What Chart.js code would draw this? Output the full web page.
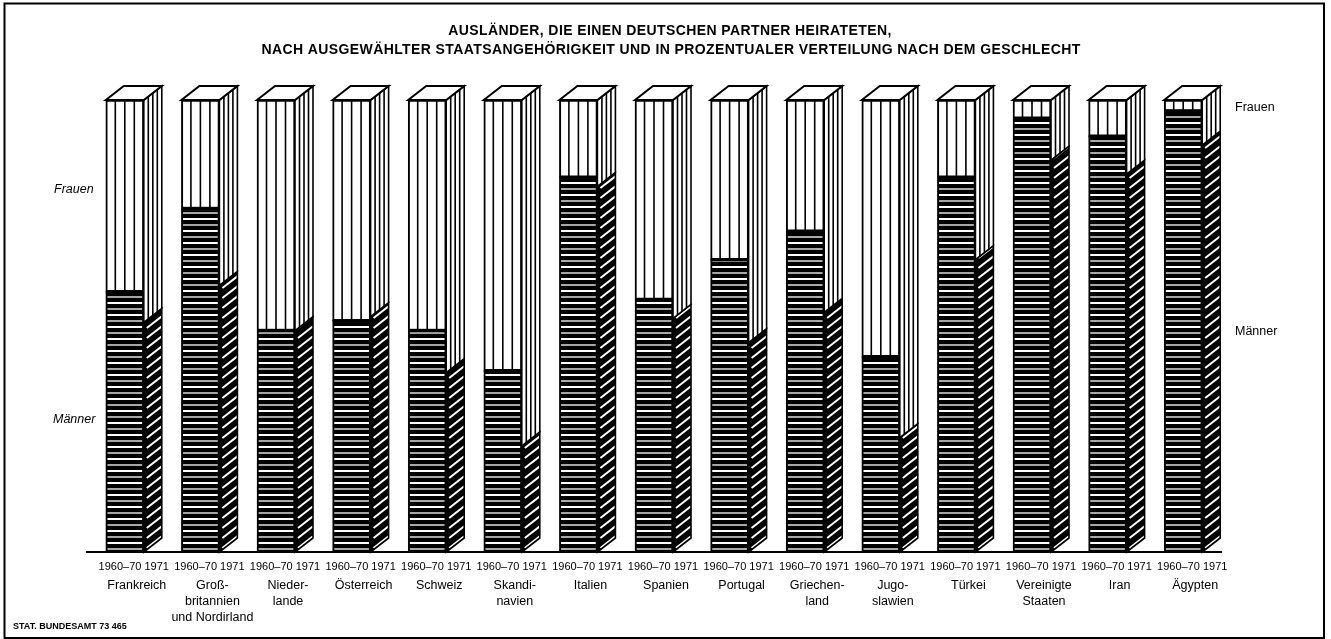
<!DOCTYPE html>
<html>
<head>
<meta charset="utf-8">
<style>
  body { margin: 0; background: #fff; }
  canvas { display: block; }
</style>
</head>
<body>
<canvas id="chart" width="1331" height="639"></canvas>
<script src="https://cdn.jsdelivr.net/npm/chart.js@4"></script>
<script>
const titleLines = [
    'AUSLÄNDER, DIE EINEN DEUTSCHEN PARTNER HEIRATETEN,',
    'NACH AUSGEWÄHLTER STAATSANGEHÖRIGKEIT UND IN PROZENTUALER VERTEILUNG NACH DEM GESCHLECHT'
];
const countries = [
    ['Frankreich'], ['Groß-', 'britannien', 'und Nordirland'], ['Nieder-', 'lande'], ['Österreich'], ['Schweiz'],
    ['Skandi-', 'navien'], ['Italien'], ['Spanien'], ['Portugal'], ['Griechen-', 'land'],
    ['Jugo-', 'slawien'], ['Türkei'], ['Vereinigte', 'Staaten'], ['Iran'], ['Ägypten']
];
const periodLabel = '1960–70 1971';
const men6070 = [57.6, 76, 49, 51.2, 49, 40.1, 82.9, 55.9, 64.7, 71, 43.2, 82.9, 96, 92, 97.6];
const women6070 = [42.4, 24, 51, 48.8, 51, 59.9, 17.1, 44.1, 35.3, 29, 56.8, 17.1, 4, 8, 2.4];
const men1971 = [50.8, 59, 49, 52.1, 39.7, 23.5, 80.9, 51.7, 46.3, 53, 25.3, 64.7, 86.7, 83.6, 90];
const women1971 = [49.2, 41, 51, 47.9, 60.3, 76.5, 19.1, 48.3, 53.7, 47, 74.7, 35.3, 13.3, 16.4, 10];

const sans = '"Liberation Sans", sans-serif';
const SIDE_W = 18;
const SIDE_H = 14;

// horizontal hatch of the male front faces
function menHatch() {
    const c = document.createElement('canvas');
    c.width = 4;
    c.height = 12;
    const g = c.getContext('2d');
    g.fillStyle = '#000';
    g.fillRect(0, 0, 4, 12);
    g.fillStyle = '#fff';
    g.fillRect(0, 2, 4, 2);
    g.fillStyle = '#a8a8a8';
    g.fillRect(0, 8, 4, 2);
    return g.createPattern(c, 'repeat');
}

function face(ctx, pts) {
    ctx.beginPath();
    pts.forEach((p, i) => i ? ctx.lineTo(p[0], p[1]) : ctx.moveTo(p[0], p[1]));
    ctx.closePath();
}

const blockPlugin = {
    id: 'block',
    afterDatasetsDraw(chart) {
        const ctx = chart.ctx;
        const menFront = chart.getDatasetMeta(0).data;
        const womenFront = chart.getDatasetMeta(1).data;
        const menSide = chart.getDatasetMeta(2).data;
        const womenSide = chart.getDatasetMeta(3).data;
        ctx.save();
        ctx.strokeStyle = '#000';
        ctx.lineWidth = 1.6;

        womenFront.forEach((bar, i) => {
            const left = bar.x - bar.width / 2;
            const right = bar.x + bar.width / 2;
            const x2 = right + SIDE_W;

            // vertical dividers, front
            ctx.beginPath();
            for (let k = 1; k < 4; k++) {
                ctx.moveTo(left + k * bar.width / 4, bar.y);
                ctx.lineTo(left + k * bar.width / 4, bar.base);
            }
            ctx.stroke();

            // side, men
            const mTop = menSide[i].y;
            const mBase = menSide[i].base;
            const mFace = [[right, mBase], [x2, mBase - SIDE_H], [x2, mTop - SIDE_H], [right, mTop]];
            face(ctx, mFace);
            ctx.fillStyle = '#000';
            ctx.fill();
            ctx.save();
            face(ctx, mFace);
            ctx.clip();
            ctx.strokeStyle = '#fff';
            ctx.lineWidth = 2;
            ctx.beginPath();
            for (let y = mBase - 4; y > mTop - SIDE_H; y -= 10) {
                ctx.moveTo(right + 3, y);
                ctx.lineTo(x2, y - SIDE_H * (SIDE_W - 3) / SIDE_W);
            }
            ctx.stroke();
            ctx.restore();
            face(ctx, mFace);
            ctx.stroke();

            // side, women
            const wTop = womenSide[i].y;
            const wBase = womenSide[i].base;
            face(ctx, [[right, wBase], [x2, wBase - SIDE_H], [x2, wTop - SIDE_H], [right, wTop]]);
            ctx.fillStyle = '#fff';
            ctx.fill();
            ctx.stroke();
            ctx.beginPath();
            for (let k = 1; k < 4; k++) {
                const x = right + k * SIDE_W / 4;
                const dy = SIDE_H * k / 4;
                ctx.moveTo(x, wTop - dy);
                ctx.lineTo(x, wBase - dy);
            }
            ctx.stroke();

            // top face
            face(ctx, [[left, wTop], [left + SIDE_W, wTop - SIDE_H], [x2, wTop - SIDE_H], [right, wTop]]);
            ctx.fillStyle = '#fff';
            ctx.fill();
            ctx.lineWidth = 2;
            ctx.stroke();
            ctx.lineWidth = 1.6;
        });

        // heavy line where men meet women on the front
        menFront.forEach(bar => {
            ctx.beginPath();
            ctx.moveTo(bar.x - bar.width / 2, bar.y);
            ctx.lineTo(bar.x + bar.width / 2, bar.y);
            ctx.lineWidth = 2;
            ctx.stroke();
        });

        // frame, title and loose labels
        ctx.lineWidth = 2;
        ctx.strokeRect(4.5, 3.5, 1319.5, 634.5);
        ctx.fillStyle = '#000';
        ctx.textBaseline = 'middle';
        ctx.textAlign = 'center';
        ctx.font = 'bold 14px ' + sans;
        ctx.letterSpacing = '0.4px';
        ctx.fillText(titleLines[0], 670, 31);
        ctx.fillText(titleLines[1], 671, 50);
        ctx.letterSpacing = '0px';
        ctx.textAlign = 'left';
        ctx.font = 'italic 12.5px ' + sans;
        ctx.fillText('Frauen', 54, 190);
        ctx.fillText('Männer', 53, 420);
        ctx.font = '12.5px ' + sans;
        ctx.fillText('Frauen', 1235, 108);
        ctx.fillText('Männer', 1235, 332);
        ctx.font = 'bold 9px ' + sans;
        ctx.fillText('STAT. BUNDESAMT 73 465', 13, 627);
        ctx.restore();
    }
};

new Chart(document.getElementById('chart'), {
    type: 'bar',
    plugins: [blockPlugin],
    data: {
        labels: countries,
        datasets: [
            { label: 'Männer 1960–70', data: men6070, backgroundColor: menHatch(), xAxisID: 'x' },
            { label: 'Frauen 1960–70', data: women6070, backgroundColor: '#fff', xAxisID: 'x' },
            { label: 'Männer 1971', data: men1971, backgroundColor: 'transparent', borderWidth: 0, xAxisID: 'xs' },
            { label: 'Frauen 1971', data: women1971, backgroundColor: 'transparent', borderWidth: 0, xAxisID: 'xs' }
        ]
    },
    options: {
        responsive: false,
        animation: false,
        layout: { padding: { left: 87, right: 110, top: 100 } },
        datasets: { bar: { grouped: false, barThickness: 38, borderColor: '#000', borderWidth: 2, borderSkipped: false } },
        plugins: {
            legend: { display: false },
            tooltip: { enabled: false }
        },
        scales: {
            x: {
                stacked: true,
                weight: 0,
                afterFit(scale) { scale.height = 26; },
                grid: { display: false, drawTicks: false },
                border: { display: true, color: '#000', width: 2 },
                ticks: {
                    autoSkip: false,
                    maxRotation: 0,
                    labelOffset: 9,
                    padding: 8,
                    color: '#000',
                    font: { family: sans, size: 11 },
                    callback: () => periodLabel
                }
            },
            xs: {
                stacked: true,
                position: 'bottom',
                weight: 1,
                afterFit(scale) { scale.height = 61; },
                grid: { display: false, drawTicks: false },
                border: { display: false },
                ticks: {
                    autoSkip: false,
                    maxRotation: 0,
                    labelOffset: 12,
                    padding: 0,
                    color: '#000',
                    font: { family: sans, size: 12.5, lineHeight: 1.26 }
                }
            },
            y: { stacked: true, display: false, min: 0, max: 100 }
        }
    }
});
</script>
</body>
</html>
